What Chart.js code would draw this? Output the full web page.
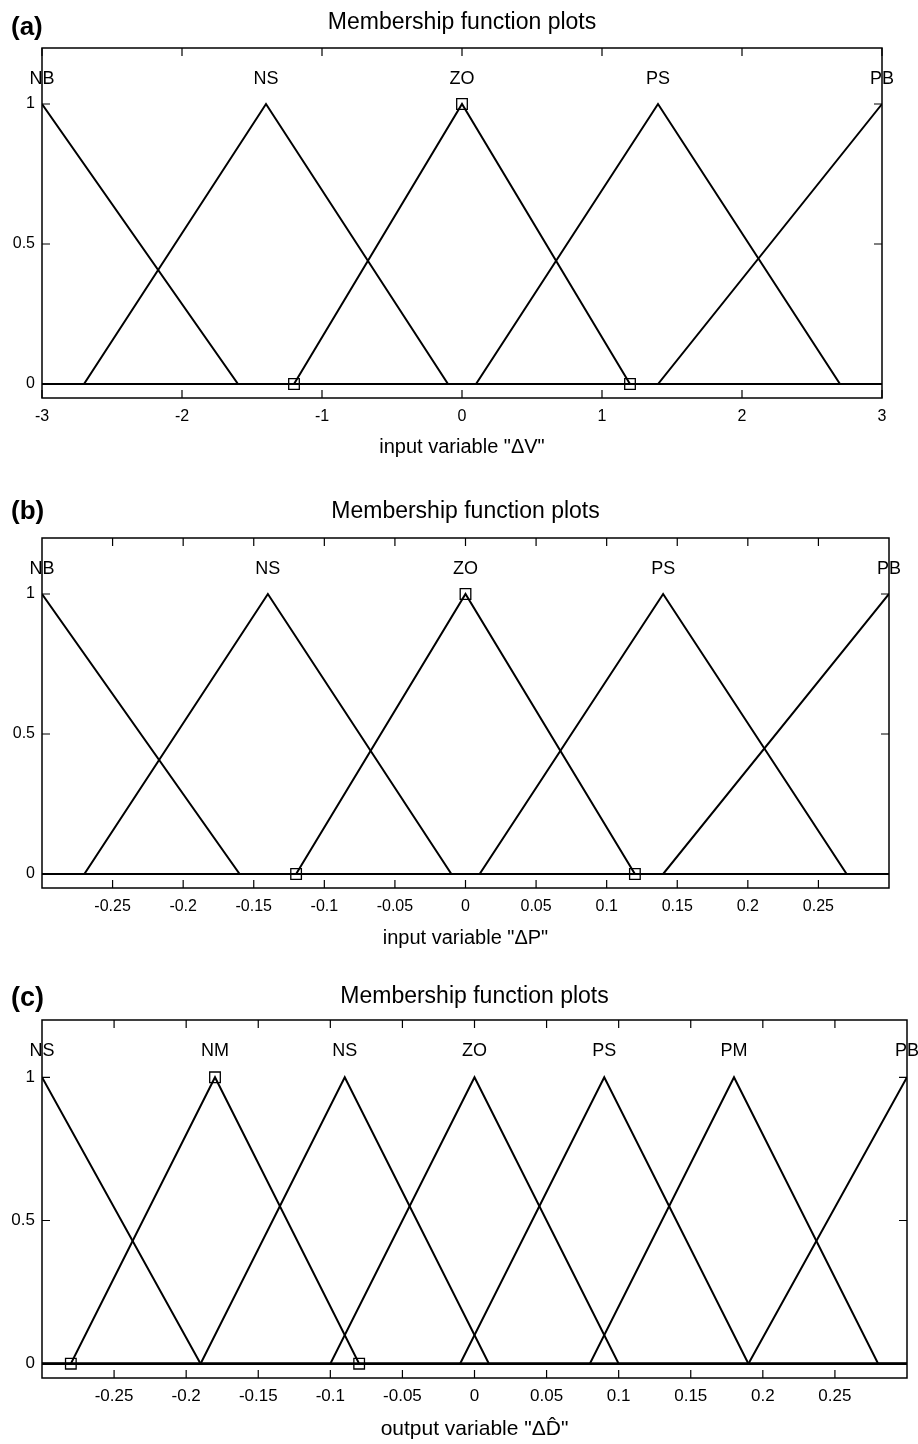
<!DOCTYPE html>
<html><head><meta charset="utf-8">
<script src="https://cdn.jsdelivr.net/npm/chart.js@4.4.1/dist/chart.umd.min.js"></script>
<style>
html,body{margin:0;padding:0;background:#fff;}
body{width:918px;height:1444px;position:relative;overflow:hidden;}
canvas{position:absolute;left:0;}
</style></head><body>
<canvas id="ca" width="918" height="470" style="top:0px"></canvas>
<canvas id="cb" width="918" height="470" style="top:490px"></canvas>
<canvas id="cc" width="918" height="469" style="top:975px"></canvas>
<script>
// ---------- DATA ----------
const chartTitle = 'Membership function plots';
const yTicks = [0, 0.5, 1];
const yTickLabels = ['0', '0.5', '1'];
const yRange = [-0.05, 1.2];

// (a) input variable ΔV
const mfNamesA = ['NB', 'NS', 'ZO', 'PS', 'PB'];
const mfParamsA = [[-4.4, -3, -1.6], [-2.7, -1.4, -0.1], [-1.2, 0, 1.2], [0.1, 1.4, 2.7], [1.4, 3, 4.6]];
const rangeA = [-3, 3];
const xTicksA = [-3, -2, -1, 0, 1, 2, 3];
const xTickLabelsA = ['-3', '-2', '-1', '0', '1', '2', '3'];
const selectedA = 2;
const xLabelA = 'input variable "\u0394V"';

// (b) input variable ΔP
const mfNamesB = ['NB', 'NS', 'ZO', 'PS', 'PB'];
const mfParamsB = [[-0.44, -0.3, -0.16], [-0.27, -0.14, -0.01], [-0.12, 0, 0.12], [0.01, 0.14, 0.27], [0.14, 0.3, 0.44]];
const rangeB = [-0.3, 0.3];
const xTicksB = [-0.25, -0.2, -0.15, -0.1, -0.05, 0, 0.05, 0.1, 0.15, 0.2, 0.25];
const xTickLabelsB = ['-0.25', '-0.2', '-0.15', '-0.1', '-0.05', '0', '0.05', '0.1', '0.15', '0.2', '0.25'];
const selectedB = 2;
const xLabelB = 'input variable "\u0394P"';

// (c) output variable ΔD̂
const mfNamesC = ['NS', 'NM', 'NS', 'ZO', 'PS', 'PM', 'PB'];
const mfParamsC = [[-0.41, -0.3, -0.19], [-0.28, -0.18, -0.08], [-0.19, -0.09, 0.01], [-0.1, 0, 0.1], [-0.01, 0.09, 0.19], [0.08, 0.18, 0.28], [0.19, 0.3, 0.41]];
const rangeC = [-0.3, 0.3];
const xTicksC = [-0.25, -0.2, -0.15, -0.1, -0.05, 0, 0.05, 0.1, 0.15, 0.2, 0.25];
const xTickLabelsC = ['-0.25', '-0.2', '-0.15', '-0.1', '-0.05', '0', '0.05', '0.1', '0.15', '0.2', '0.25'];
const selectedC = 1;
const xLabelC = 'output variable "\u0394D\u0302"';

// ---------- RENDERING ----------
const FONT = "'Liberation Sans', Arial, Helvetica, sans-serif";
Chart.defaults.font.family = FONT;
Chart.defaults.color = '#000';

function trimf(x, p) {
  const [a, b, c] = p;
  let l = b === a ? (x >= b ? 1 : 0) : (x - a) / (b - a);
  let r = c === b ? (x <= b ? 1 : 0) : (c - x) / (c - b);
  return Math.max(Math.min(l, r), 0);
}
function mfPoints(p, range) {
  const xs = [range[0], p[0], p[1], p[2], range[1]]
    .filter(x => x >= range[0] && x <= range[1])
    .sort((u, v) => u - v);
  const uniq = xs.filter((x, i) => i === 0 || Math.abs(x - xs[i - 1]) > 1e-12);
  return uniq.map(x => ({x: x, y: trimf(x, p)}));
}

const decor = {
  id: 'decor',
  afterDraw(chart, args, o) {
    const {ctx, chartArea: ca, scales: {x, y}} = chart;
    ctx.save();
    ctx.strokeStyle = '#000';
    // inward tick marks
    ctx.lineWidth = 1.2;
    ctx.beginPath();
    x.ticks.forEach(t => {
      const px = x.getPixelForValue(t.value);
      ctx.moveTo(px, ca.bottom); ctx.lineTo(px, ca.bottom - 8);
      ctx.moveTo(px, ca.top); ctx.lineTo(px, ca.top + 8);
    });
    y.ticks.forEach(t => {
      const py = y.getPixelForValue(t.value);
      ctx.moveTo(ca.left, py); ctx.lineTo(ca.left + 8, py);
      ctx.moveTo(ca.right, py); ctx.lineTo(ca.right - 8, py);
    });
    ctx.stroke();
    // box
    ctx.lineWidth = 1.5;
    ctx.strokeRect(ca.left, ca.top, ca.right - ca.left, ca.bottom - ca.top);
    ctx.fillStyle = '#000';
    ctx.textBaseline = 'middle';
    // title centred over the axes
    ctx.font = o.titleFont + 'px ' + FONT;
    ctx.textAlign = 'center';
    ctx.fillText(o.title, (ca.left + ca.right) / 2, o.titleY);
    // MF names above peaks
    ctx.font = o.mfFont + 'px ' + FONT;
    o.names.forEach((n, i) => {
      ctx.fillText(n, x.getPixelForValue(o.params[i][1]), y.getPixelForValue(1.09));
    });
    // panel tag
    ctx.font = 'bold ' + o.tagFont + 'px ' + FONT;
    ctx.textAlign = 'left';
    ctx.fillText(o.tag, 11, o.tagY);
    ctx.restore();
  }
};

function makePanel(id, d, lay) {
  const datasets = d.params.map((p, i) => ({
    label: d.names[i],
    data: mfPoints(p, d.range),
    showLine: true,
    borderColor: '#000',
    borderWidth: 2,
    pointRadius: 0,
    tension: 0
  }));
  const sp = d.params[d.selected];
  datasets.push({
    label: 'selected',
    data: [{x: sp[0], y: trimf(sp[0], sp)}, {x: sp[1], y: trimf(sp[1], sp)}, {x: sp[2], y: trimf(sp[2], sp)}],
    showLine: false,
    pointStyle: 'rect',
    pointRadius: 7.5,
    pointBorderWidth: 1.3,
    pointBorderColor: '#000',
    pointBackgroundColor: 'rgba(0,0,0,0)',
    clip: false
  });
  return new Chart(document.getElementById(id), {
    type: 'scatter',
    data: {datasets},
    options: {
      responsive: false,
      animation: false,
      events: [],
      layout: {padding: {left: 0, right: lay.padRight, top: lay.padTop, bottom: 0}},
      plugins: {
        legend: {display: false},
        tooltip: {enabled: false},
        title: {display: false},
        decor: {names: d.names, params: d.params, tag: d.tag, tagY: lay.tagY,
          mfFont: lay.mfFont, tagFont: lay.tagFont,
          title: chartTitle, titleFont: lay.titleFont, titleY: lay.titleY}
      },
      scales: {
        x: {
          type: 'linear', min: d.range[0], max: d.range[1],
          afterBuildTicks: s => { s.ticks = d.xTicks.map(v => ({value: v})); },
          afterFit: s => { s.height = lay.axisH; },
          grid: {display: false, drawTicks: false}, border: {display: false},
          ticks: {autoSkip: false, maxRotation: 0, padding: lay.tickPad, color: '#000',
            font: {size: lay.tickFont}, callback: (v, i) => d.xTickLabels[i]},
          title: {display: true, text: d.xLabel, color: '#000',
            font: {size: lay.xTitleFont}, padding: {top: 0, bottom: lay.xTitlePadBottom}}
        },
        y: {
          type: 'linear', min: yRange[0], max: yRange[1],
          afterBuildTicks: s => { s.ticks = yTicks.map(v => ({value: v})); },
          afterFit: s => { s.width = 42; },
          grid: {display: false, drawTicks: false}, border: {display: false},
          ticks: {padding: 7, color: '#000', font: {size: lay.tickFont},
            callback: (v, i) => yTickLabels[i]}
        }
      }
    },
    plugins: [decor]
  });
}

makePanel('ca',
  {names: mfNamesA, params: mfParamsA, range: rangeA, xTicks: xTicksA, xTickLabels: xTickLabelsA,
   selected: selectedA, xLabel: xLabelA, tag: '(a)'},
  {padRight: 36, padTop: 48, titleFont: 23, titleY: 23, axisH: 72, tickPad: 9,
   tickFont: 16, xTitleFont: 20, xTitlePadBottom: 11, mfFont: 18, tagFont: 26, tagY: 28});
makePanel('cb',
  {names: mfNamesB, params: mfParamsB, range: rangeB, xTicks: xTicksB, xTickLabels: xTickLabelsB,
   selected: selectedB, xLabel: xLabelB, tag: '(b)'},
  {padRight: 29, padTop: 48, titleFont: 23, titleY: 22, axisH: 72, tickPad: 9,
   tickFont: 16, xTitleFont: 20, xTitlePadBottom: 10, mfFont: 18, tagFont: 26, tagY: 22});
makePanel('cc',
  {names: mfNamesC, params: mfParamsC, range: rangeC, xTicks: xTicksC, xTickLabels: xTickLabelsC,
   selected: selectedC, xLabel: xLabelC, tag: '(c)'},
  {padRight: 11, padTop: 45, titleFont: 23, titleY: 22, axisH: 66, tickPad: 8,
   tickFont: 17, xTitleFont: 21, xTitlePadBottom: 2, mfFont: 18, tagFont: 27, tagY: 24});
</script>
</body></html>
